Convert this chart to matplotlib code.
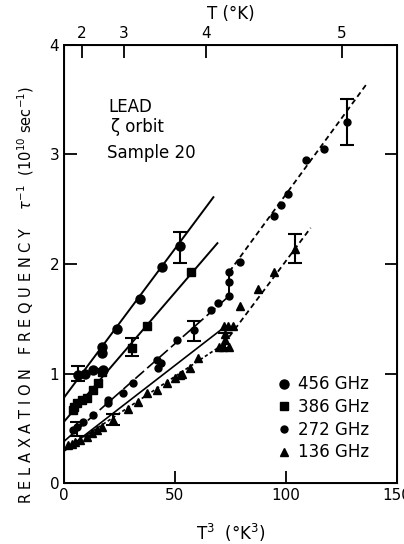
import numpy as np
import matplotlib
matplotlib.use("Agg")
from matplotlib import pyplot as plt

plt.rcParams['font.family'] = ['DejaVu Sans']

# data: x = T^3 (K^3), y = 1/tau (1e10 s^-1)
x456 = [6.3, 9.5, 13.1, 17.6, 17.2, 17.2, 23.9, 34.3, 44.3, 52.4]
y456 = [0.99, 1.00, 1.03, 1.03, 1.19, 1.24, 1.41, 1.68, 1.97, 2.16]

x386 = [4.2, 4.5, 5.9, 8.1, 10.4, 13.1, 15.4, 17.2, 30.7, 37.5, 57.4]
y386 = [0.67, 0.69, 0.73, 0.76, 0.78, 0.85, 0.91, 1.01, 1.23, 1.43, 1.93]

x272 = [4.2, 5.9, 8.6, 13.1, 19.9, 19.9, 26.7, 31.2, 42.0, 43.8, 42.5, 51.0, 58.7,
        66.0, 69.4, 74.5, 74.5, 74.5, 79.3, 94.4, 97.6, 100.7, 108.9, 117.0, 127.4]
y272 = [0.48, 0.51, 0.56, 0.62, 0.73, 0.76, 0.82, 0.91, 1.12, 1.10, 1.05, 1.31, 1.40,
        1.58, 1.64, 1.71, 1.84, 1.93, 2.02, 2.44, 2.54, 2.64, 2.95, 3.05, 3.30]

x136 = [1.8, 3.6, 5.0, 7.2, 10.4, 12.7, 14.9, 17.2, 22.1, 28.9, 33.4, 37.5, 42.0, 46.5,
        50.1, 52.4, 53.3, 56.9, 60.5, 69.6, 71.8, 74.1, 72.7, 72.7, 72.0, 74.0, 76.0,
        79.5, 87.2, 94.4, 103.9]
y136 = [0.35, 0.36, 0.37, 0.39, 0.42, 0.46, 0.48, 0.51, 0.58, 0.68, 0.74, 0.82, 0.85, 0.91,
        0.96, 0.99, 1.00, 1.05, 1.14, 1.24, 1.24, 1.24, 1.31, 1.36, 1.43, 1.43, 1.43,
        1.62, 1.77, 1.93, 2.14]

# error bars (x, y, half-width)
err456 = ([6.3, 52.4], [1.00, 2.15], [0.07, 0.14])
err386 = ([30.7], [1.24], [0.08])
err272 = ([5.9, 58.7, 127.4], [0.49, 1.39, 3.30], [0.065, 0.09, 0.21])
err136 = ([22.1, 72.7, 103.9], [0.58, 1.30, 2.14], [0.05, 0.07, 0.135])

# drawn lines
fit456 = ([0, 67.3], [0.78, 2.61])
fit386 = ([0, 69.1], [0.56, 2.19])
fit272_lo = ([0, 74.5], [0.38, 1.71])
fit272_step = ([74.5, 74.5], [1.71, 1.93])
fit272_hi = ([74.5, 136.9], [1.93, 3.66])
fit136_solid = ([0, 71.4], [0.29, 1.41])
fit136_lo = ([0, 72.0], [0.30, 1.27])
fit136_hi = ([72.0, 111.1], [1.27, 2.33])

T_ticks = [2, 3, 4, 5]

fig = plt.figure(figsize=(4.04, 5.44), dpi=100)
ax = fig.add_axes([0.1584, 0.1121, 0.8243, 0.8052])

lw = 1.4
ax.plot(*fit456, color='k', lw=lw)
ax.plot(*fit386, color='k', lw=lw)
ax.plot(*fit272_lo, color='k', lw=1.2, dashes=(7, 2.5))
ax.plot(*fit272_step, color='k', lw=lw)
ax.plot(*fit272_hi, color='k', lw=1.3, dashes=(3, 2))
ax.plot(*fit136_solid, color='k', lw=1.2)
ax.plot(*fit136_lo, color='k', lw=1.2, dashes=(2, 1.5))
ax.plot(*fit136_hi, color='k', lw=1.3, dashes=(3, 2))

ax.plot(x456, y456, 'o', color='k', ms=6.5, label='456 GHz')
ax.plot(x386, y386, 's', color='k', ms=5.5, label='386 GHz')
ax.plot(x272, y272, 'o', color='k', ms=5, label='272 GHz')
ax.plot(x136, y136, '^', color='k', ms=5.5, label='136 GHz')

for ex, ey, ee in [err456, err386, err272, err136]:
    ax.errorbar(ex, ey, yerr=ee, fmt='none', ecolor='k', elinewidth=1.5,
                capsize=5, capthick=1.5)

ax.set_xlim(0, 150)
ax.set_ylim(0, 4)
ax.set_xticks([0, 50, 100, 150])
ax.set_yticks([0, 1, 2, 3, 4])
ax.tick_params(direction='in', length=9, width=1.3, labelsize=11,
               right=True, top=False)
for s in ax.spines.values():
    s.set_linewidth(1.4)

ax2 = ax.twiny()
ax2.set_xlim(0, 150)
ax2.set_xticks([t ** 3 for t in T_ticks])
ax2.set_xticklabels([str(t) for t in T_ticks])
ax2.tick_params(direction='in', length=9, width=1.3, labelsize=11, pad=3)
ax2.set_xlabel('T (°K)', fontsize=12, labelpad=5)

ax.set_xlabel('T$^3$  (°K$^3$)', fontsize=12, labelpad=14)
ax.set_ylabel('R E L A X A T I O N   F R E Q U E N C Y    $\\tau^{-1}$  (10$^{10}$ sec$^{-1}$)',
              fontsize=10.5)
ax.yaxis.set_label_coords(-0.085, 0.43)

ax.text(19.9, 3.43, 'LEAD', fontsize=12, va='center')
ax.text(21.0, 3.25, 'ζ orbit', fontsize=12, va='center')
ax.text(19.4, 3.01, 'Sample 20', fontsize=12, va='center')

ax.legend(loc='lower right', bbox_to_anchor=(0.96, 0.015), frameon=False,
          fontsize=12, handlelength=0.6, handletextpad=0.5, labelspacing=0.28)

fig.savefig('out.png', dpi=100)
